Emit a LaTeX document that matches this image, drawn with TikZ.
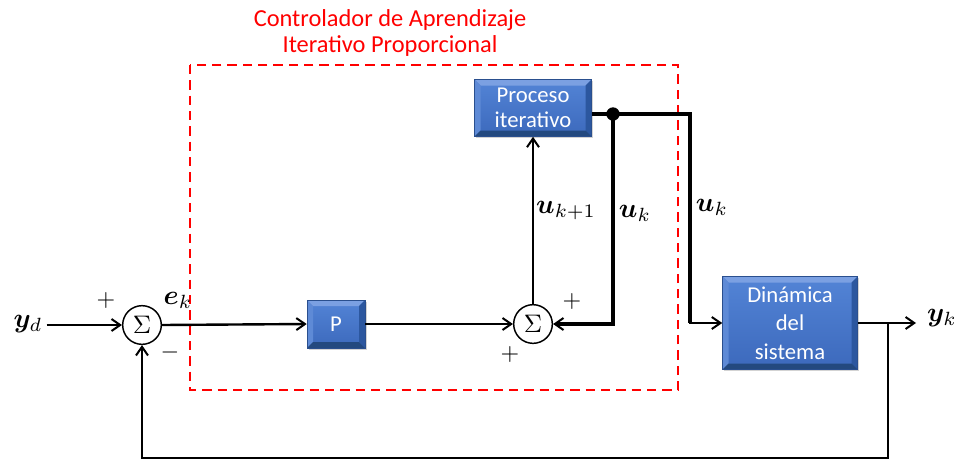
\documentclass[tikz,border=0pt]{standalone}
\usepackage{bm}
\usepackage{graphicx}
\usepackage{fontspec}
\setmainfont{Carlito}
\usetikzlibrary{arrows.meta,calc,shadows}

% enlarged math for the signal labels
\newcommand\sigmath[2][2.05]{\scalebox{#1}{$#2$}}

\definecolor{faceTop}{HTML}{5384D6}
\definecolor{faceBot}{HTML}{3C69BC}
\definecolor{bevTop}{HTML}{7BA0E2}
\definecolor{bevLeft}{HTML}{5E8AD6}
\definecolor{bevRight}{HTML}{2C579F}
\definecolor{bevBot}{HTML}{23497F}
\definecolor{edgeBlue}{HTML}{2A4F8E}

\tikzset{
  % bevelled blue block
  blk/.style={
    draw=edgeBlue, line width=0.4pt,
    top color=faceTop, bottom color=faceBot,
    text=white, align=center, inner sep=0pt,
    font=\fontsize{17}{19}\selectfont,
    drop shadow={opacity=0.35, shadow xshift=1.2pt, shadow yshift=-1.2pt},
    path picture={
      \coordinate (nw) at (path picture bounding box.north west);
      \coordinate (ne) at (path picture bounding box.north east);
      \coordinate (sw) at (path picture bounding box.south west);
      \coordinate (se) at (path picture bounding box.south east);
      \def\bv{4.5pt}
      \fill[bevTop]   (nw) -- (ne) -- ($(ne)+(-\bv,-\bv)$) -- ($(nw)+(\bv,-\bv)$) -- cycle;
      \fill[bevLeft]  (nw) -- (sw) -- ($(sw)+(\bv,\bv)$) -- ($(nw)+(\bv,-\bv)$) -- cycle;
      \fill[bevRight] (ne) -- (se) -- ($(se)+(-\bv,\bv)$) -- ($(ne)+(-\bv,-\bv)$) -- cycle;
      \fill[bevBot]   (sw) -- (se) -- ($(se)+(-\bv,\bv)$) -- ($(sw)+(\bv,\bv)$) -- cycle;
    }
  },
  sumnode/.style={circle, draw, line width=1.1pt, minimum size=29pt, inner sep=0pt},
  tip/.style={-{Straight Barb[length=6.5pt,width=9pt,line width=1.5pt]}},
  sig/.style={line width=1.8pt, tip},
  ukline/.style={line width=2.6pt},
  lbl/.style={inner sep=0pt},
}

\begin{document}
\begin{tikzpicture}[x=0.75pt, y=-0.75pt]
  \useasboundingbox (0,0) rectangle (960,461);

  % controller frame and its title
  \draw[red, line width=1.7pt, dash pattern=on 7pt off 4.5pt] (190,65) rectangle (678,390);
  \node[text=red, align=center, font=\fontsize{18.3}{19.5}\selectfont] (title) at (390,33)
    {Controlador de Aprendizaje\\Iterativo Proporcional};

  % blocks
  \node[blk, minimum width={117*0.75pt}, minimum height={57*0.75pt}] (PI) at (533,108)
    {Proceso\\iterativo};
  \node[blk, minimum width={58*0.75pt}, minimum height={48*0.75pt}] (P) at (336,324) {P};
  \node[blk, minimum width={135*0.75pt}, minimum height={93*0.75pt},
        font=\fontsize{17}{21.5}\selectfont] (D) at (790,323)
    {Dinámica\\del\\sistema};

  % summing junctions
  \node[sumnode] (s1) at (142,325) {\sigmath[1.9]{\Sigma}};
  \node[sumnode] (s2) at (533,324) {\sigmath[1.9]{\Sigma}};

  % signal labels
  \node[lbl] (yd) at (28,324) {\sigmath{\bm{y}_d}};
  \node[lbl] (ek) at (178,300) {\sigmath{\bm{e}_k}};
  \node[lbl] (uk1) at (566,211) {\sigmath{\bm{u}_{k+1}}};
  \node[lbl] (uk2) at (635,213) {\sigmath{\bm{u}_k}};
  \node[lbl] (uk3) at (712,207) {\sigmath{\bm{u}_k}};
  \node[lbl] (yk) at (942,318) {\sigmath{\bm{y}_k}};

  % signs at the junctions
  \node[lbl] (p1) at (106,300) {\sigmath[1.8]{+}};
  \node[lbl] (m1) at (170,352) {\sigmath[1.8]{-}};
  \node[lbl] (p2) at (572,301) {\sigmath[1.8]{+}};
  \node[lbl] (p3) at (510,354) {\sigmath[1.8]{+}};

  % forward path
  \draw[sig] ($(s1.west -| yd.east)+(4,0)$) -- (s1.west);
  \draw[sig] (s1.east) -- (P.west);
  \draw[sig] (P.east) -- (s2.west);
  \draw[sig] (s2.north) -- (PI.south);

  % control signal u_k leaving the iterative process
  \coordinate (PIo) at ($(PI.east)+(0,6)$);
  \coordinate (J) at (613,114);
  \coordinate (T) at (690,114);
  \draw[ukline] (PIo) -- (J) -- (T) -- (T |- D.west);
  \draw[sig] ($(T |- D.west)+(-1,0)$) -- (D.west);
  \draw[ukline, tip] (J) |- (s2.east);
  \fill (J) circle (5pt);

  % output and feedback
  \coordinate (O) at (916,323);
  \draw[sig] (D.east) -- (O);
  \coordinate (B) at (888,323);
  \coordinate (Bb) at (888,458);
  \draw[sig] (B) -- (Bb) -| (s1.south);
\end{tikzpicture}
\end{document}
